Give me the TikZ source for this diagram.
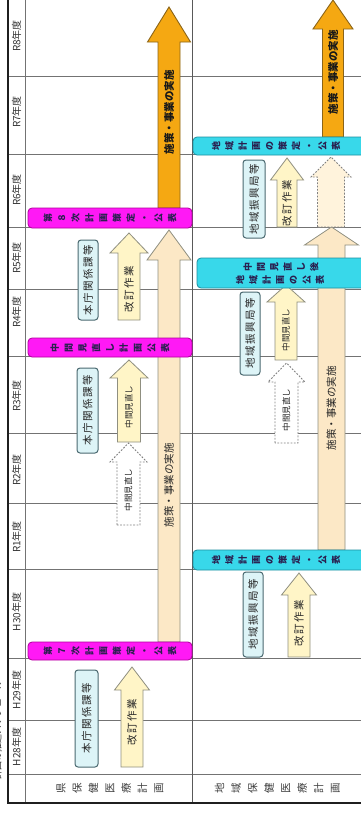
\documentclass[tikz,border=0pt]{standalone}
\usepackage{fontspec}
\newfontfamily\jp{Noto Sans CJK JP}
\newfontfamily\jpsp[LetterSpace=15]{Noto Sans CJK JP}
\definecolor{magfill}{HTML}{FF19F5}
\definecolor{magedge}{HTML}{B0009C}
\definecolor{cyfill}{HTML}{38D8EA}
\definecolor{cyedge}{HTML}{1E8FA0}
\definecolor{deptfill}{HTML}{DDF4F7}
\definecolor{deptedge}{HTML}{4A6970}
\definecolor{paleyel}{HTML}{FFF5C7}
\definecolor{arredge}{HTML}{8F8F80}
\definecolor{beige}{HTML}{FCE8C6}
\definecolor{orfill}{HTML}{F5A812}
\definecolor{oredge}{HTML}{8B6418}
\definecolor{dashfill}{HTML}{FFF3DC}
\definecolor{bartext}{HTML}{2A2050}
\newcommand{\blockarrow}[7]{%
  \draw[#1] ({#2-#6},#5) -- ({#2-#6},#4) -- ({#2-#7},#4) -- (#2,#3) -- ({#2+#7},#4) -- ({#2+#6},#4) -- ({#2+#6},#5) -- cycle;}
\tikzset{
  gridline/.style={draw=black!55, line width=0.8pt},
  frameline/.style={draw=black!88, line width=1.8pt},
  magbar/.style={fill=magfill, draw=magedge, line width=0.8pt, rounded corners=4pt, rotate=90, inner sep=0pt, align=center, text=bartext, font=\jp\bfseries\fontsize{9}{13.8}\selectfont},
  cybar/.style={fill=cyfill, draw=cyedge, line width=0.8pt, rounded corners=4pt, rotate=90, inner sep=0pt},
  vtext/.style={rotate=90, inner sep=0pt, align=center, text=bartext, font=\jp\bfseries\fontsize{9}{13.3}\selectfont},
  deptbox/.style={fill=deptfill, draw=deptedge, line width=1pt, rounded corners=3pt, rotate=90, inner sep=0pt, text=black!85, font=\jpsp\fontsize{10.5}{12}\selectfont},
  palearrow/.style={fill=paleyel, draw=arredge, line width=0.8pt},
  longarrow/.style={fill=beige, draw=arredge, line width=0.8pt},
  dasharrow/.style={fill=white, draw=black!50, line width=0.9pt, dash pattern=on 1.8pt off 1.5pt},
  orarrow/.style={fill=orfill, draw=oredge, line width=0.9pt},
  rtext/.style={rotate=90, inner sep=0pt, text=black!85},
  yearlabel/.style={rotate=90, inner sep=0pt, text=black!80, font=\jp\fontsize{10}{12}\selectfont},
}
\begin{document}
\begin{tikzpicture}[x=1pt, y=-1pt]
\useasboundingbox (0,0) rectangle (360,814);
\fill[white] (0,0) rectangle (360,814);
% title (cut off at left edge, as in the reference)
\node[rtext, font=\jp\fontsize{9}{11}\selectfont] (title) at (-2.5,730) {計画の推進スケジュール};
% grid
\foreach \yy in {76,154,227,289,356,433,503,569,658,720} {\draw[gridline] (8,\yy) -- (364,\yy);}
\draw[gridline, line width=1pt] (8,774) -- (364,774);
\draw[gridline] (25,-2) -- (25,803);
\draw[gridline, draw=black!65] (192,-2) -- (192,803);
\draw[frameline] (8,-2) -- (8,803) -- (364,803);
% year labels
\node[yearlabel] (y8) at (16.5,36) {R8年度};
\node[yearlabel] (y7) at (16.5,112) {R7年度};
\node[yearlabel] (y6) at (16.5,190) {R6年度};
\node[yearlabel] (y5) at (16.5,258) {R5年度};
\node[yearlabel] (y4) at (16.5,312) {R4年度};
\node[yearlabel] (y3) at (16.5,396) {R3年度};
\node[yearlabel] (y2) at (16.5,470) {R2年度};
\node[yearlabel] (y1) at (16.5,537) {R1年度};
\node[yearlabel] (h30) at (16.5,612) {H30年度};
\node[yearlabel] (h29) at (16.5,690) {H29年度};
\node[yearlabel] (h28) at (16.5,747) {H28年度};
% headers
\node[vtext, font=\jp\fontsize{10.5}{16.3}\selectfont, text=black!75] (hd1) at (110,788.5) {県\\保\\健\\医\\療\\計\\画};
\node[vtext, font=\jp\fontsize{10.5}{16.5}\selectfont, text=black!75] (hd2) at (277.5,788.5) {地\\域\\保\\健\\医\\療\\計\\画};
% ---------- left column ----------
\blockarrow{longarrow}{169}{230}{260}{642}{11}{22}
\node[rtext, font=\jp\fontsize{10.5}{12}\selectfont] (t1) at (169,485) {施策・事業の実施};
\blockarrow{orarrow}{169}{7}{42}{208}{11}{21.5}
\node[rtext, font=\jp\bfseries\fontsize{10.5}{12}\selectfont, text=black!90] (t2) at (169,112) {施策・事業の実施};
\node[deptbox, minimum width=97pt, minimum height=23pt] (b1) at (86.5,718.5) {本庁関係課等};
\blockarrow{palearrow}{132}{667}{690}{767}{11}{17.5}
\node[rtext, font=\jpsp\fontsize{10.5}{12}\selectfont] (t3) at (132,722) {改訂作業};
\node[magbar, minimum width=18pt, minimum height=164pt] (m1) at (110,651) {第\\７\\次\\計\\画\\策\\定\\・\\公\\表};
\node[deptbox, minimum width=85pt, minimum height=21pt] (b2) at (87.5,410.5) {本庁関係課等};
\blockarrow{dasharrow}{128.5}{443}{462}{525}{11.5}{18.5}
\node[rtext, font=\jp\fontsize{8.5}{10}\selectfont] (t4) at (128.5,490) {中間見直し};
\blockarrow{palearrow}{129}{360}{378}{442}{11.5}{19}
\node[rtext, font=\jp\fontsize{8.5}{10}\selectfont] (t5) at (129,407) {中間見直し};
\node[magbar, minimum width=19pt, minimum height=164pt] (m2) at (110,347.5) {中\\間\\見\\直\\し\\計\\画\\公\\表};
\node[deptbox, minimum width=80pt, minimum height=20pt] (b3) at (88,280) {本庁関係課等};
\blockarrow{palearrow}{129}{233}{253}{320}{11}{19}
\node[rtext, font=\jpsp\fontsize{10.5}{12}\selectfont] (t6) at (129,289) {改訂作業};
\node[magbar, minimum width=20pt, minimum height=164pt] (m3) at (110,218) {第\\８\\次\\計\\画\\策\\定\\・\\公\\表};
% ---------- right column ----------
\blockarrow{longarrow}{331.5}{227}{245}{550}{13.5}{27}
\node[rtext, font=\jp\fontsize{10.5}{12}\selectfont] (t7) at (331.5,408) {施策・事業の実施};
\blockarrow{orarrow}{333}{0}{29}{137}{10.5}{20}
\node[rtext, font=\jp\bfseries\fontsize{10.5}{12}\selectfont, text=black!90] (t8) at (333,72) {施策・事業の実施};
\node[cybar, minimum width=20pt, minimum height=173pt] (c1) at (279.5,560) {};
\node[vtext] (c1t) at (276,560) {地\\域\\計\\画\\の\\策\\定\\・\\公\\表};
\node[deptbox, minimum width=85pt, minimum height=20pt] (b4) at (253,614.5) {地域振興局等};
\blockarrow{palearrow}{299}{573}{595}{657}{11}{17.5}
\node[rtext, font=\jpsp\fontsize{10.5}{12}\selectfont] (t9) at (299,623) {改訂作業};
\node[deptbox, minimum width=83pt, minimum height=20pt] (b5) at (250,333.5) {地域振興局等};
\blockarrow{dasharrow}{286.5}{363}{382}{443}{11.5}{18.5}
\node[rtext, font=\jp\fontsize{8.5}{10}\selectfont] (t10) at (286.5,410) {中間見直し};
\blockarrow{palearrow}{286}{285}{302}{360}{11}{19}
\node[rtext, font=\jp\fontsize{8.5}{10}\selectfont] (t11) at (286,330) {中間見直し};
\node[cybar, minimum width=30pt, minimum height=169pt] (c2) at (281.5,273) {};
\node[vtext] (c2a) at (281,266.5) {中\\間\\見\\直\\し\\後};
\node[vtext] (c2b) at (280,279.5) {地\\域\\計\\画\\の\\公\\表};
\node[deptbox, minimum width=78pt, minimum height=22pt] (b6) at (254,199) {地域振興局等};
\blockarrow{palearrow}{287}{158}{180}{227}{10}{16.5}
\node[rtext, font=\jpsp\fontsize{10.5}{12}\selectfont] (t12) at (287,203) {改訂作業};
\blockarrow{dasharrow, fill=dashfill}{331}{157}{177}{227}{13.5}{20}
\node[cybar, minimum width=18pt, minimum height=173pt] (c3) at (279.5,146) {};
\node[vtext] (c3t) at (276,146) {地\\域\\計\\画\\の\\策\\定\\・\\公\\表};
\end{tikzpicture}
\end{document}
